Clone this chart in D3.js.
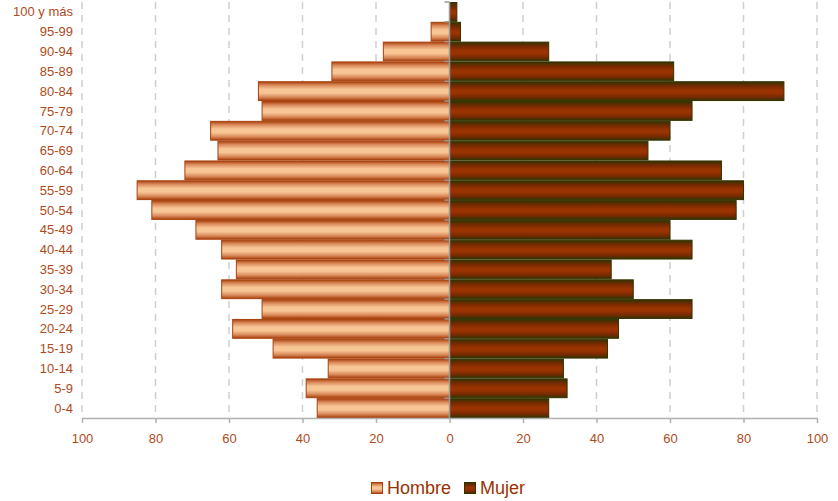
<!DOCTYPE html>
<html><head><meta charset="utf-8">
<script src="https://cdn.jsdelivr.net/npm/d3@7"></script>
<style>body{margin:0;background:#fff}</style>
</head><body>
<svg id="c" width="838" height="501"></svg>
<script>
const categories = ["0-4","5-9","10-14","15-19","20-24","25-29","30-34","35-39","40-44","45-49","50-54","55-59","60-64","65-69","70-74","75-79","80-84","85-89","90-94","95-99","100 y más"];
const hombre = [36,39,33,48,59,51,62,58,62,69,81,85,72,63,65,51,52,32,18,5,0];
const mujer  = [27,32,31,43,46,66,50,44,66,60,78,80,74,54,60,66,91,61,27,3,2];
const xTicks = [-100,-80,-60,-40,-20,0,20,40,60,80,100];
const seriesNames = ["Hombre","Mujer"];

const svg = d3.select("#c");
const font = "'Liberation Sans', Arial, sans-serif";
const txtColor = "#b04a1c";
const x = d3.scaleLinear().domain([-100,100]).range([82,817]);
const y = d3.scaleBand().domain(categories).range([418,2]).padding(0);

const defs = svg.append("defs");
const gH = defs.append("linearGradient").attr("id","gH").attr("x1",0).attr("y1",0).attr("x2",0).attr("y2",1);
[[0,"#a8400c"],[0.18,"#d9895a"],[0.4,"#f8c595"],[0.6,"#f8c595"],[0.82,"#d9895a"],[1,"#a8400c"]].forEach(([o,c])=>gH.append("stop").attr("offset",o).attr("stop-color",c));
const gM = defs.append("linearGradient").attr("id","gM").attr("x1",0).attr("y1",0).attr("x2",0).attr("y2",1);
[[0,"#333300"],[0.25,"#7a2a00"],[0.45,"#993300"],[0.6,"#993300"],[0.8,"#7a2a00"],[1,"#333300"]].forEach(([o,c])=>gM.append("stop").attr("offset",o).attr("stop-color",c));

// grid
svg.append("g").selectAll("line").data(xTicks.filter(d=>d!==0)).join("line")
  .attr("x1",d=>x(d)).attr("x2",d=>x(d)).attr("y1",2).attr("y2",418)
  .attr("stroke","#cfcfcf").attr("stroke-width",1.5).attr("stroke-dasharray","7,6");

// bars
const bh = y.bandwidth();
svg.append("g").selectAll("rect").data(categories).join("rect")
  .attr("x",(d,i)=>x(-hombre[i])).attr("width",(d,i)=>x(0)-x(-hombre[i]))
  .attr("y",d=>y(d)+0.5).attr("height",bh-1)
  .attr("fill","url(#gH)").attr("stroke","#a8400c").attr("stroke-width",1)
  .style("display",(d,i)=>hombre[i]>0?null:"none");
svg.append("g").selectAll("rect").data(categories).join("rect")
  .attr("x",x(0)).attr("width",(d,i)=>x(mujer[i])-x(0))
  .attr("y",d=>y(d)+0.5).attr("height",bh-1)
  .attr("fill","url(#gM)").attr("stroke","#333300").attr("stroke-width",1);

// x axis
const xa = svg.append("g").attr("transform","translate(0,418)")
  .call(d3.axisBottom(x).tickValues(xTicks).tickFormat(d=>Math.abs(d)).tickSize(5).tickSizeOuter(0));
xa.select(".domain").attr("stroke","#b0b0b0").attr("stroke-width",1.5);
xa.selectAll(".tick line").attr("stroke","#b0b0b0").attr("stroke-width",1.5);
xa.selectAll("text").attr("fill",txtColor).attr("font-family",font).attr("font-size",13).attr("dy","1.3em");

// center axis
svg.append("line").attr("x1",x(0)).attr("x2",x(0)).attr("y1",2).attr("y2",418).attr("stroke","#9a9a9a").attr("stroke-width",1.5);
svg.append("g").selectAll("line").data(categories).join("line")
  .attr("x1",x(0)-5).attr("x2",x(0)).attr("y1",d=>y(d)).attr("y2",d=>y(d))
  .attr("stroke","#9a9a9a").attr("stroke-width",1.5);

// category labels
svg.append("g").selectAll("text").data(categories).join("text")
  .attr("x",73).attr("y",d=>y(d)+bh/2).attr("dy","0.35em").attr("text-anchor","end")
  .attr("fill",txtColor).attr("font-family",font).attr("font-size",13).text(d=>d);

// legend
const lg = svg.append("g");
const items = [{n:seriesNames[0],f:"url(#gH)",s:"#a8400c",x:371},{n:seriesNames[1],f:"url(#gM)",s:"#333300",x:464}];
items.forEach(it=>{
  lg.append("rect").attr("x",it.x+0.5).attr("y",482.5).attr("width",11).attr("height",11).attr("fill",it.f).attr("stroke",it.s);
  lg.append("text").attr("x",it.x+16).attr("y",494).attr("fill","#993300").attr("font-family",font).attr("font-size",18).text(it.n);
});
</script>
</body></html>
